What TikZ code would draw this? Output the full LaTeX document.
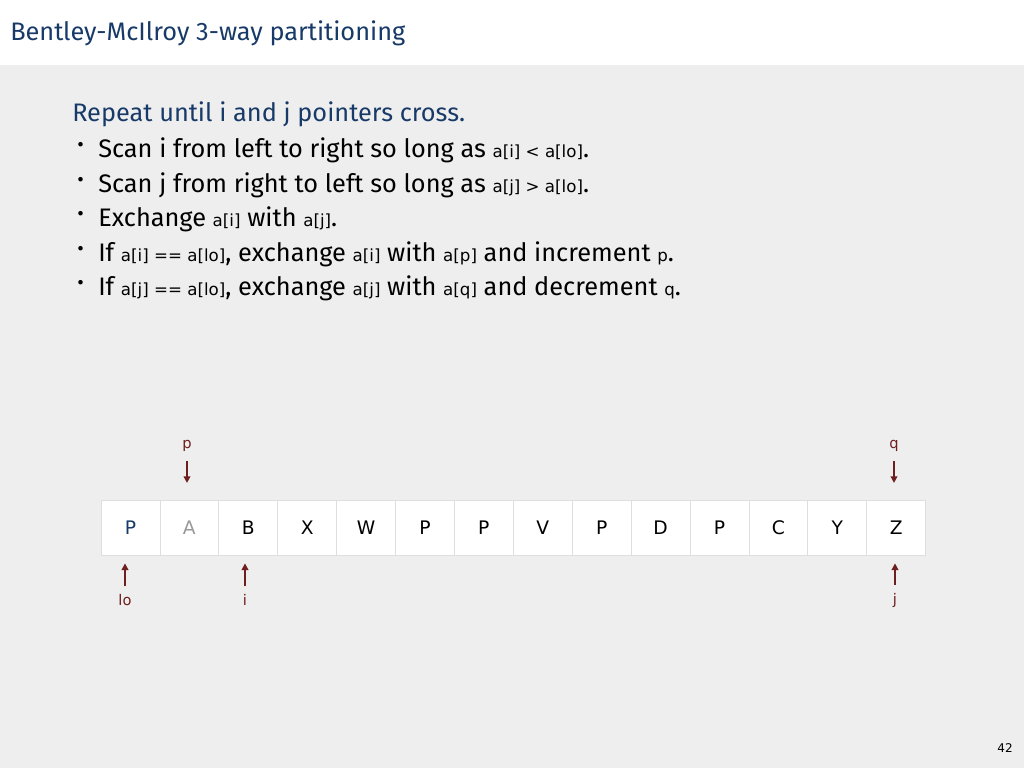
\documentclass[tikz,border=0pt]{standalone}
\usepackage{fontspec}
\setmainfont{Fira Sans}
\newfontfamily\codefont{DejaVu Sans}
\usetikzlibrary{arrows.meta}
\definecolor{title_blue}{RGB}{24,58,104}
\definecolor{ptr_red}{RGB}{110,30,30}
\definecolor{slide_gray}{RGB}{238,238,238}
\definecolor{cell_line}{RGB}{222,222,222}
\newcommand{\cd}[1]{{\codefont\fontsize{12.5}{14}\selectfont #1}}
\newcommand{\bul}{\raisebox{4pt}{\fontsize{15}{16}\selectfont\textbullet}}
\tikzstyle{cell}=[rectangle,fill=white,draw=cell_line,line width=0.6pt,
  minimum width=44.175pt,minimum height=41.25pt,inner sep=0pt,
  font=\codefont\fontsize{14}{16}\selectfont]
\tikzstyle{line}=[anchor=base west,inner sep=0pt,font=\fontsize{19}{21}\selectfont]
\tikzstyle{ptr}=[inner sep=0pt,text=ptr_red,font=\codefont\fontsize{11}{13}\selectfont]
\tikzstyle{ptrarrow}=[draw=ptr_red,line width=1.5pt,-{Triangle[length=5pt,width=5pt]}]
\tikzstyle{none}=[]

\begin{document}
\begin{tikzpicture}[x=0.75pt,y=-0.75pt]
            \useasboundingbox (0,0) rectangle (1024,768);
            \fill [slide_gray] (0,65) rectangle (1024,768);
            \fill [white] (0,0) rectangle (1024,65);
            \node [style=line,text=title_blue] (title) at (10,40) {Bentley-McIlroy 3-way partitioning};
            \node [style=line,text=title_blue] (rep) at (72,121) {Repeat until i and j pointers cross.};
            \node [style=line] (b1) at (77,157) {\bul};
            \node [style=line] (b2) at (77,192) {\bul};
            \node [style=line] (b3) at (77,226) {\bul};
            \node [style=line] (b4) at (77,261) {\bul};
            \node [style=line] (b5) at (77,295) {\bul};
            \node [style=line] (t1) at (98,157) {Scan i from left to right so long as \cd{a[i] < a[lo]}.};
            \node [style=line] (t2) at (98,192) {Scan j from right to left so long as \cd{a[j] > a[lo]}.};
            \node [style=line] (t3) at (98,226) {Exchange \cd{a[i]} with \cd{a[j]}.};
            \node [style=line] (t4) at (98,261) {If \cd{a[i] == a[lo]}, exchange \cd{a[i]} with \cd{a[p]} and increment \cd{p}.};
            \node [style=line] (t5) at (98,295) {If \cd{a[j] == a[lo]}, exchange \cd{a[j]} with \cd{a[q]} and decrement \cd{q}.};
            % array
            \node [style=cell,text=title_blue] (0) at (130.45,527.5) {P};
            \node [style=cell,text=black!40] (1) at (189.35,527.5) {A};
            \node [style=cell] (2) at (248.25,527.5) {B};
            \node [style=cell] (3) at (307.15,527.5) {X};
            \node [style=cell] (4) at (366.05,527.5) {W};
            \node [style=cell] (5) at (424.95,527.5) {P};
            \node [style=cell] (6) at (483.85,527.5) {P};
            \node [style=cell] (7) at (542.75,527.5) {V};
            \node [style=cell] (8) at (601.65,527.5) {P};
            \node [style=cell] (9) at (660.55,527.5) {D};
            \node [style=cell] (10) at (719.45,527.5) {P};
            \node [style=cell] (11) at (778.35,527.5) {C};
            \node [style=cell] (12) at (837.25,527.5) {Y};
            \node [style=cell] (13) at (896.15,527.5) {Z};
            % pointers
            \node [style=ptr] (p) at (187,446) {p};
            \node [style=ptr] (q) at (894,446) {q};
            \node [style=ptr] (lo) at (125,600) {lo};
            \node [style=ptr] (i) at (245,600) {i};
            \node [style=ptr] (j) at (895,600) {j};
            \draw [style=ptrarrow,shorten <=7pt,shorten >=12.5pt] (p.south) to (p.south |- 1.north);
            \draw [style=ptrarrow,shorten <=7pt,shorten >=12.5pt] (q.south) to (q.south |- 13.north);
            \draw [style=ptrarrow,shorten <=6pt,shorten >=6pt] (lo.north) to (lo.north |- 0.south);
            \draw [style=ptrarrow,shorten <=6pt,shorten >=6pt] (i.north) to (i.north |- 2.south);
            \draw [style=ptrarrow,shorten <=6pt,shorten >=6pt] (j.north) to (j.north |- 13.south);
            \node [style=none,font=\codefont\fontsize{9}{11}\selectfont] (page) at (1005,748) {42};
    \end{tikzpicture}
\end{document}
